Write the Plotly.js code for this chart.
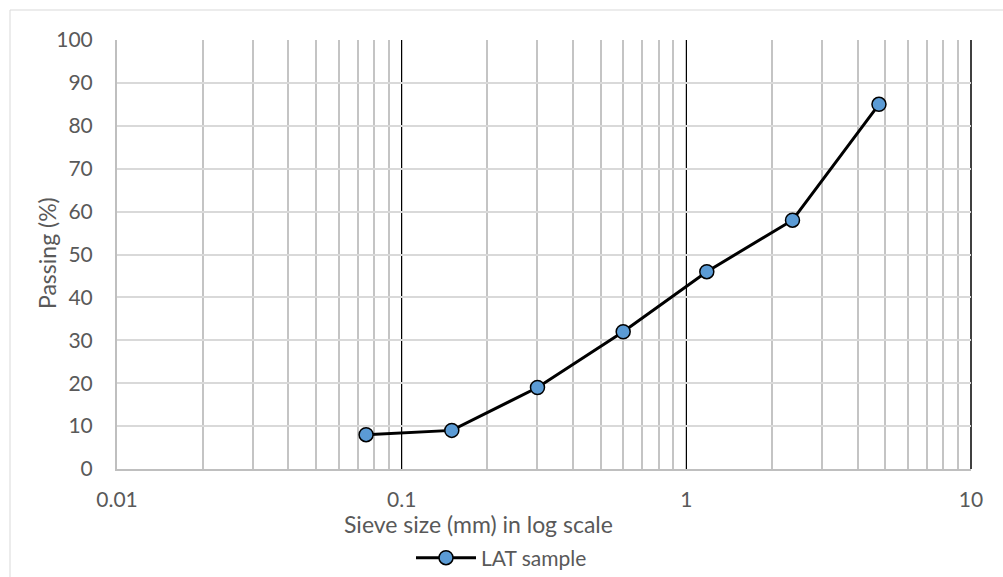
<!DOCTYPE html>
<html><head><meta charset="utf-8">
<script src="https://cdn.plot.ly/plotly-3.0.1.min.js"></script>
<style>body{margin:0;background:#fff}#chart{width:1003px;height:577px}</style>
</head><body><div id="chart"></div>
<script>
const sieveSize = [0.075, 0.15, 0.3, 0.6, 1.18, 2.36, 4.75];
const passing = [8, 9, 19, 32, 46, 58, 85];
const xTickVals = [0.01, 0.1, 1, 10];
const xTickText = ['0.01', '0.1', '1', '10'];
const seriesName = 'LAT sample';
const xTitle = 'Sieve size (mm) in log scale';
const yTitle = 'Passing (%)';

const W = 1003, H = 577;
const L = 117, R = 32, T = 40, B = 108;
const pw = W - L - R, ph = H - T - B;
const px = v => (v - L) / pw;          // pixel x -> paper
const py = v => (T + ph - v) / ph;     // pixel y -> paper

const trace = {
  x: sieveSize, y: passing, type: 'scatter', mode: 'lines+markers', name: seriesName,
  line: {color: '#000000', width: 3},
  marker: {size: 14, color: '#5b9bd5', line: {color: '#000000', width: 1.5}}
};

const layout = {
  width: W, height: H,
  margin: {l: L, r: R, t: T, b: B, pad: 0, autoexpand: false},
  paper_bgcolor: '#ffffff', plot_bgcolor: '#ffffff',
  font: {family: 'Lato, Carlito, Calibri, sans-serif', color: '#595959', size: 16},
  showlegend: true,
  legend: {orientation: 'h', x: px(411), xanchor: 'left', y: py(558), yanchor: 'middle',
    itemwidth: 60, font: {size: 21, color: '#595959'}, bgcolor: 'rgba(0,0,0,0)'},
  xaxis: {
    type: 'log', range: [-2, 1], tickvals: xTickVals, ticktext: xTickText,
    showgrid: true, gridcolor: '#000000', gridwidth: 1,
    showline: true, linecolor: '#bfbfbf', linewidth: 2, mirror: false,
    ticks: 'outside', ticklen: 11, tickcolor: 'rgba(0,0,0,0)', zeroline: false,
    minor: {dtick: 'D1', showgrid: true, gridcolor: '#c4c4c4', gridwidth: 2, ticks: ''},
    tickfont: {size: 21, color: '#595959'},
    automargin: false
  },
  yaxis: {
    range: [0, 100], dtick: 10, tick0: 0,
    showgrid: true, gridcolor: '#d9d9d9', gridwidth: 2,
    showline: true, linecolor: '#bfbfbf', linewidth: 2,
    ticks: 'outside', ticklen: 18, tickcolor: 'rgba(0,0,0,0)', zeroline: false,
    tickfont: {size: 21, color: '#595959'},
    automargin: false
  },
  annotations: [{
    text: xTitle, xref: 'paper', yref: 'paper', x: px(478), y: py(524),
    xanchor: 'center', yanchor: 'middle', showarrow: false,
    font: {size: 23, color: '#595959'}
  }, {
    text: yTitle, xref: 'paper', yref: 'paper', x: px(47), y: py(253),
    xanchor: 'center', yanchor: 'middle', showarrow: false, textangle: -90,
    font: {size: 23, color: '#595959'}
  }],
  shapes: [{
    type: 'rect', xref: 'paper', yref: 'paper',
    x0: px(10), x1: px(W + 5), y0: py(H + 5), y1: py(10),
    line: {color: '#d9d9d9', width: 1}, fillcolor: 'rgba(0,0,0,0)', layer: 'below'
  }, {
    type: 'line', xref: 'paper', yref: 'paper', x0: 1, x1: 1, y0: 0, y1: 1,
    line: {color: '#000000', width: 1.5}, layer: 'below'
  }]
};

Plotly.newPlot('chart', [trace], layout, {displayModeBar: false, staticPlot: true});
</script></body></html>
